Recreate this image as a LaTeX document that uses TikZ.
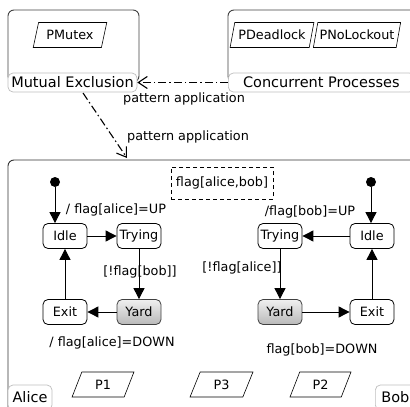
\documentclass[tikz,border=0pt]{standalone}
\usepackage{fontspec}
\setmainfont{DejaVu Sans}
\usetikzlibrary{arrows.meta,shapes.geometric,positioning}
\begin{document}
\begin{tikzpicture}[x=1pt,y=-1pt,font=\fontsize{12.8}{15}\selectfont,
    statebox/.style={draw, rounded corners=5pt, minimum width=44pt, minimum height=25pt, inner sep=1pt, line width=0.8pt},
    yardbox/.style={statebox, top color=gray!12, bottom color=gray!55, draw=black!75},
    patbox/.style={draw, trapezium, trapezium left angle=70, trapezium right angle=110, trapezium stretches=true, minimum height=25pt, inner sep=1pt, line width=0.6pt},
    pkg/.style={draw=black!75, rounded corners=6pt, line width=0.9pt},
    tag/.style={draw=black!25, fill=white, rounded corners=5pt, font=\fontsize{14.5}{17}\selectfont, inner sep=2pt, line width=0.7pt},
    trans/.style={-{Triangle[length=11pt,width=11pt]}, line width=0.9pt},
    apply/.style={-{Straight Barb[length=9pt,width=12pt]}, line width=1.1pt, dash pattern=on 8pt off 3pt on 1.5pt off 3pt},
    init/.style={circle, fill, inner sep=0pt, minimum size=10pt},
    node distance=74pt]

  \useasboundingbox (0,0) rectangle (410,407);

  % packages
  \draw [pkg] (8,10) rectangle (139,82);
  \node (mutex) [tag, minimum width=129pt, minimum height=19pt] at (72.5,82.5) {Mutual Exclusion};
  \node (pmutex) [patbox, minimum width=74pt] at (70,35) {PMutex};

  \draw [pkg] (228,10) rectangle (416,82);
  \node (concur) [tag, anchor=west, minimum width=186pt, minimum height=19pt] at (228,82.5) {Concurrent Processes};
  \node (pdead) [patbox, minimum width=84pt] at (272,35) {PDeadlock};
  \node (pnolock) [patbox, minimum width=88pt] at (357,35) {PNoLockout};

  \draw [apply] (concur) -- (mutex);
  \node (lab1) at (184,99) {pattern application};

  \coordinate (src) at (83,93);
  \coordinate (dst) at (127,158);
  \draw [apply] (src) -- (dst);
  \node (lab2) at (188,137) {pattern application};

  % protocol
  \draw [draw=black!80, line width=0.9pt, rounded corners=6pt] (8,160) rectangle (416,414);
  \node (flags) [draw, dash pattern=on 4pt off 3pt, minimum width=102pt, minimum height=32pt, line width=0.7pt] at (222,183) {flag[alice,bob]};

  % alice
  \node (ainit) [init] at (55,182) {};
  \node (aidle) [statebox] at (65,236) {Idle};
  \node (atrying) [statebox, right of=aidle] {Trying};
  \node (ayard) [yardbox, below of=atrying, node distance=76pt] {Yard};
  \node (aexit) [statebox, left of=ayard] {Exit};

  \draw [trans] (ainit) -- (ainit |- aidle.north);
  \draw [trans] (aidle) -- (atrying);
  \draw [trans] (atrying) -- (ayard);
  \draw [trans] (ayard) -- (aexit);
  \draw [trans] (aexit) -- (aidle);

  \node (aup) at (116,210) {/ flag[alice]=UP};
  \node (aguard) at (140,272) {[!flag[bob]]};
  \node (adown) at (112,343) {/ flag[alice]=DOWN};

  % bob
  \node (binit) [init] at (371,182) {};
  \node (bidle) [statebox] at (372,236) {Idle};
  \node (btrying) [statebox, left of=bidle, node distance=92pt] {Trying};
  \node (byard) [yardbox, below of=btrying, node distance=76pt] {Yard};
  \node (bexit) [statebox, below of=bidle, node distance=76pt] {Exit};

  \draw [trans] (binit) -- (binit |- bidle.north);
  \draw [trans] (bidle) -- (btrying);
  \draw [trans] (btrying) -- (byard);
  \draw [trans] (byard) -- (bexit);
  \draw [trans] (bexit) -- (bidle);

  \node (bup) at (310,212) {/flag[bob]=UP};
  \node (bguard) at (242,268) {[!flag[alice]]};
  \node (bdown) at (322,350) {flag[bob]=DOWN};

  % parts
  \node (p1) [patbox, minimum width=62pt] at (103,384.5) {P1};
  \node (p3) [patbox, minimum width=63pt] at (221.5,384.5) {P3};
  \node (p2) [patbox, minimum width=61pt] at (320.5,384.5) {P2};

  \node (alice) [tag, minimum width=44pt, minimum height=25pt] at (30,397.5) {Alice};
  \node (bob) [tag, anchor=west, minimum width=40pt, minimum height=25pt] at (375,397.5) {Bob};
\end{tikzpicture}
\end{document}
